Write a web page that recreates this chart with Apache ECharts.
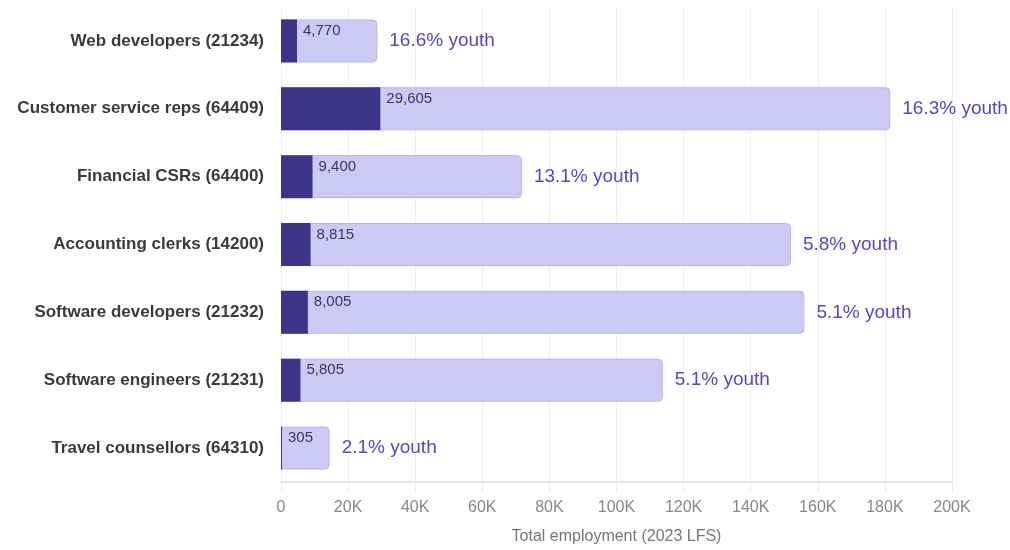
<!DOCTYPE html>
<html><head><meta charset="utf-8">
<script src="https://cdn.jsdelivr.net/npm/echarts@6/dist/echarts.min.js"></script>
<style>html,body{margin:0;padding:0;background:#fff}#c{width:1010px;height:550px}</style>
</head><body><div id="c"></div>
<script>
const categories = ["Web developers (21234)","Customer service reps (64409)","Financial CSRs (64400)","Accounting clerks (14200)","Software developers (21232)","Software engineers (21231)","Travel counsellors (64310)"];
const totalEmployment = [28700, 181600, 71800, 152000, 156000, 113800, 14500];
const youthEmployment = [4770, 29605, 9400, 8815, 8005, 5805, 305];
const youthShare = ["16.6","16.3","13.1","5.8","5.1","5.1","2.1"];

const chart = echarts.init(document.getElementById('c'));
const font = '"Liberation Sans", Arial, Helvetica, sans-serif';
chart.setOption({
  animation:false,
  grid:{left:281,right:58,top:7,bottom:68,outerBoundsMode:'none',containLabel:false},
  xAxis:{type:'value',min:0,max:200000,interval:20000,
    name:'Total employment (2023 LFS)',nameLocation:'middle',nameGap:47,
    nameTextStyle:{color:'#777',fontSize:16,fontFamily:font},
    axisLine:{show:true,lineStyle:{color:'#e6e6e6',width:2}},
    axisTick:{show:true,length:10,lineStyle:{color:'#eaeaea'}},
    splitLine:{show:true,lineStyle:{color:'#efefef'}},
    axisLabel:{color:'#888',fontSize:16,fontFamily:font,margin:18,
      formatter:v=>v===0?'0':(v/1000)+'K'}},
  yAxis:{type:'category',data:categories,inverse:true,
    axisLine:{show:false},axisTick:{show:false},
    axisLabel:{color:'#3a3a3a',fontSize:17,fontWeight:'bold',fontFamily:font,margin:17}},
  series:[
    {type:'bar',data:totalEmployment,barWidth:43,barGap:'-100%',z:2,
     itemStyle:{color:'#cdc9f5',borderColor:'#bab4ee',borderWidth:1,borderRadius:[0,4,4,0]},
     label:{show:true,position:'right',distance:12,color:'#5549c0',fontSize:19,fontFamily:font,
       formatter:p=>youthShare[p.dataIndex]+'% youth'}},
    {type:'bar',data:youthEmployment,barWidth:43,barGap:'-100%',z:3,
     itemStyle:{color:'#3c3487'},
     label:{show:true,position:['100%',0],offset:[6,4],align:'left',verticalAlign:'top',
       color:'#3a3566',fontSize:15,fontFamily:font,
       formatter:p=>p.value.toLocaleString('en-US')}}
  ]
});
</script></body></html>
